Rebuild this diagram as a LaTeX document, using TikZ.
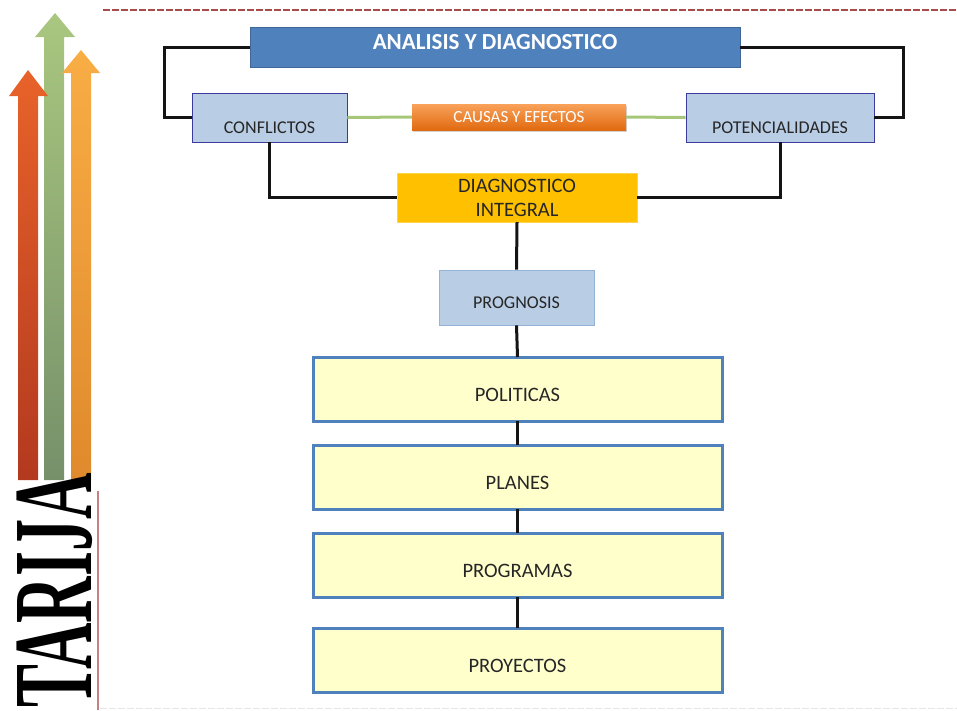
\documentclass[tikz,border=0pt]{standalone}
\usepackage{fontspec}
\setmainfont{Carlito}
\newfontfamily\tarijafont{Liberation Serif}
\usetikzlibrary{positioning}
\usetikzlibrary{shadows}

\definecolor{titleblue}{HTML}{4F81BD}
\definecolor{lightblue}{HTML}{B9CDE5}
\definecolor{darkblue}{HTML}{3B3B9C}
\definecolor{softblue}{HTML}{95B3D7}
\definecolor{gold}{HTML}{FFC000}
\definecolor{paleyellow}{HTML}{FFFFCC}
\definecolor{linegreen}{HTML}{A6C77A}
\definecolor{dashred}{HTML}{A94B4B}
\definecolor{redtop}{HTML}{E8632A}
\definecolor{redbottom}{HTML}{B3391F}
\definecolor{greentop}{HTML}{A9C77F}
\definecolor{greenbottom}{HTML}{76906A}
\definecolor{orangetop}{HTML}{F9AD45}
\definecolor{orangebottom}{HTML}{DF8A2C}
\definecolor{causetop}{HTML}{F9A25A}
\definecolor{causebottom}{HTML}{E06A10}

\begin{document}
\begin{tikzpicture}[x=1pt, y=-1pt,
                    titlenode/.style={rectangle, draw=titleblue!80!black, fill=titleblue, inner sep=0pt, minimum width=490pt, minimum height=40pt,
                                      text=white, font=\fontsize{23}{26}\selectfont\bfseries, text height=12pt, text depth=7pt},
                    sidenode/.style={rectangle, draw=darkblue, thick, fill=lightblue, inner sep=0pt, minimum height=49pt,
                                     text=black!85, font=\fontsize{18}{20}\selectfont, text height=31pt, text depth=0pt},
                    causenode/.style={rectangle, top color=causetop, bottom color=causebottom, inner sep=0pt,
                                      minimum width=214pt, minimum height=26pt, text=white, font=\fontsize{17}{19}\selectfont,
                                      drop shadow={shadow xshift=1pt, shadow yshift=-2pt, opacity=0.35}},
                    diagnode/.style={rectangle, draw=gold!70!white, fill=gold, inner sep=0pt, minimum width=240pt, minimum height=49pt,
                                     align=center, text=black!85, font=\fontsize{20.5}{24}\selectfont},
                    prognode/.style={rectangle, draw=softblue, thick, fill=lightblue, inner sep=0pt, minimum width=155pt, minimum height=55pt,
                                     text=black!85, font=\fontsize{18}{20}\selectfont, text height=22pt, text depth=0pt},
                    levelnode/.style={rectangle, draw=titleblue, line width=3pt, fill=paleyellow, inner sep=0pt, outer sep=0pt,
                                      minimum width=409pt, minimum height=64pt,
                                      text=black!85, font=\fontsize{20.5}{24}\selectfont, text height=24pt, text depth=0pt},
                    blackline/.style={line width=3pt, black!92},
                    greenline/.style={line width=3pt, linegreen},]
    \useasboundingbox (0,0) rectangle (957,710);
    % border lines
    \draw[dashred, line width=2.5pt, dash pattern=on 7pt off 2pt] (103,10) -- (957,10);
    \draw[black!10, line width=1pt, dash pattern=on 7pt off 2pt] (100,708) -- (957,708);
    \draw[dashred!70, line width=1.2pt] (98,491) -- (98,710);
    % arrows
    \shade[top color=greentop, bottom color=greenbottom]
        (55,13) -- (75,37) -- (64,37) -- (64,480) -- (44,480) -- (44,37) -- (35,37) -- cycle;
    \shade[top color=redtop, bottom color=redbottom]
        (28,70) -- (48,96) -- (38,96) -- (38,480) -- (18,480) -- (18,96) -- (9,96) -- cycle;
    \shade[top color=orangetop, bottom color=orangebottom]
        (81,50) -- (100,73) -- (91,73) -- (91,480) -- (71,480) -- (71,73) -- (62,73) -- cycle;
    \node[rotate=90, anchor=base west, inner sep=0pt] (tarija) at (91,708)
        {\scalebox{0.57}[1]{\tarijafont\bfseries\fontsize{113}{113}\selectfont TARIJA}};
    % nodes
    \node[titlenode]  (analisis)  at (495,47)      {ANALISIS Y DIAGNOSTICO};
    \node[sidenode, minimum width=155pt] (conflictos) at (269.5,117.5) {CONFLICTOS};
    \node[sidenode, minimum width=188pt] (potencial)  at (780,117.5)   {POTENCIALIDADES};
    \node[causenode]  (causas)    at (519,117)     {CAUSAS Y EFECTOS};
    \node[diagnode]   (diag)      at (517,197.5)   {DIAGNOSTICO\\INTEGRAL};
    \node[prognode]   (prognosis) at (516.5,297.5) {PROGNOSIS};
    \node[levelnode]  (politicas) at (517.5,389)   {POLITICAS};
    \node[levelnode]  (planes)    [below=24pt of politicas] {PLANES};
    \node[levelnode]  (programas) [below=24pt of planes]    {PROGRAMAS};
    \node[levelnode]  (proyectos) [below=31pt of programas] {PROYECTOS};
    % lines
    \draw[blackline] (analisis.west) -- ++(-85,0) |- (conflictos.west);
    \draw[blackline] (analisis.east) -- ++(163,0) |- (potencial.east);
    \draw[greenline] (conflictos.east) -- (causas.west);
    \draw[greenline] (causas.east) -- (potencial.west);
    \draw[blackline] (conflictos.south) |- (diag.west);
    \draw[blackline] (potencial.south) |- (diag.east);
    \draw[blackline] (diag.south) -- (prognosis.north);
    \draw[blackline] (prognosis.south) -- (politicas.north);
    \draw[blackline] (politicas.south) -- (planes.north);
    \draw[blackline] (planes.south) -- (programas.north);
    \draw[blackline] (programas.south) -- (proyectos.north);
\end{tikzpicture}
\end{document}
